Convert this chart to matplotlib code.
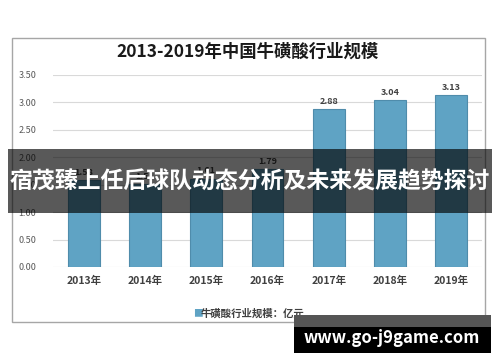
import matplotlib.pyplot as plt
from matplotlib.patches import Rectangle

plt.rcParams['font.family'] = ['Noto Sans CJK SC', 'DejaVu Sans']

years = ["2013年", "2014年", "2015年", "2016年", "2017年", "2018年", "2019年"]
values = [1.58, 1.51, 1.61, 1.79, 2.88, 3.04, 3.13]
yticks = [0.0, 0.5, 1.0, 1.5, 2.0, 2.5, 3.0, 3.5]

fig = plt.figure(figsize=(5, 3.62), dpi=100)
W, H = 500, 362

# outer chart frame
fig.patches.append(Rectangle((12 / W, 1 - 322 / H), 473 / W, 284 / H,
                             transform=fig.transFigure, fill=False,
                             edgecolor="#a6a6a6", linewidth=1.0, zorder=0))

ax = fig.add_axes([53 / W, 1 - 267 / H, 429 / W, 192 / H])
x = range(len(years))
bars = ax.bar(x, values, width=0.52, color="#5fa3c4", edgecolor="#4f8cab",
              linewidth=0.8, zorder=2)
for b, v in zip(bars, values):
    ax.text(b.get_x() + b.get_width() / 2, v + 0.06, f"{v:.2f}",
            ha="center", va="bottom", fontsize=6.5, fontweight="bold",
            color="#404040")

ax.set_xlim(-0.5, 6.5)
ax.set_ylim(0, 3.5)
ax.set_yticks(yticks)
ax.set_yticklabels([f"{t:.2f}" for t in yticks], fontsize=6.5, color="#595959")
ax.set_xticks(list(x))
ax.set_xticklabels(years, fontsize=7.5, fontweight="bold", color="#404040")
ax.tick_params(length=0, pad=6)
ax.tick_params(axis="y", pad=12)
ax.grid(axis="y", color="#d9d9d9", linewidth=0.8, zorder=0)
for s in ax.spines.values():
    s.set_visible(False)

fig.text(0.495, 1 - 52 / H, "2013-2019年中国牛磺酸行业规模", ha="center", va="center",
         fontsize=12.5, fontweight="bold", color="#1a1a1a")

# legend
fig.text(193 / W, 1 - 313 / H, "■", ha="left", va="center", fontsize=7,
         color="#5fa3c4")
fig.text(201 / W, 1 - 313 / H, "牛磺酸行业规模：亿元", ha="left", va="center",
         fontsize=7.5, fontweight="bold", color="#404040")

# overlay banner
fig.patches.append(Rectangle((8 / W, 1 - 213 / H), 484 / W, 64 / H,
                             transform=fig.transFigure, facecolor="black",
                             alpha=0.65, edgecolor="none", zorder=5))
fig.text(0.5, 1 - 182 / H, "宿茂臻上任后球队动态分析及未来发展趋势探讨",
         ha="center", va="center", fontsize=16.5, fontweight="bold",
         color="white", zorder=6)

# watermark box
fig.patches.append(Rectangle((294 / W, 1 - 327 / H), 197 / W, 12 / H,
                             transform=fig.transFigure, facecolor="#555555",
                             edgecolor="none", zorder=5))
fig.patches.append(Rectangle((294 / W, 1 - 353 / H), 197 / W, 26 / H,
                             transform=fig.transFigure, facecolor="black",
                             edgecolor="none", zorder=5))
fig.text(392 / W, 1 - 338 / H, "www.go-j9game.com", ha="center", va="center",
         fontsize=12, fontweight="bold", color="white", zorder=6)

fig.savefig("out.png", dpi=100)
